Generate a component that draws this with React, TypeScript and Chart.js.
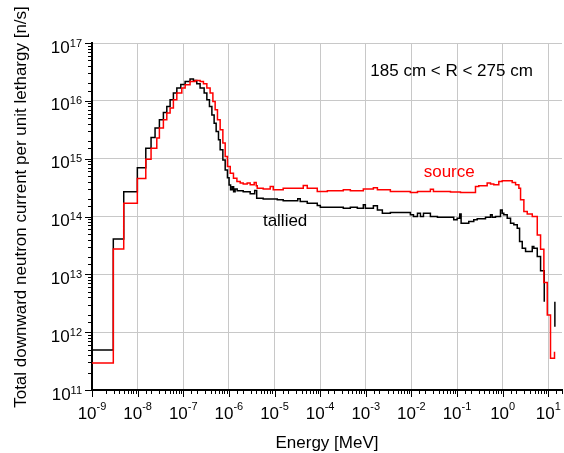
import React, { useEffect, useRef } from "react";
import { Chart, registerables } from "chart.js";

Chart.register(...registerables);

// ---------- data (energy in MeV = lower bin edge, flux per unit lethargy in n/s) ----------
const talliedEnergy = [
  1e-9, 2.93e-9, 4.96e-9, 9.86e-9, 1.51e-8, 1.97e-8, 2.41e-8, 3.0e-8, 3.67e-8, 4.36e-8,
  5.15e-8, 6.08e-8, 7.23e-8, 8.83e-8, 1.1e-7, 1.41e-7, 1.67e-7, 1.98e-7, 2.34e-7, 2.87e-7,
  3.29e-7, 3.75e-7, 4.24e-7, 4.75e-7, 5.26e-7, 5.92e-7, 6.44e-7, 7.38e-7, 8.3e-7, 9.3e-7,
  1.01e-6, 1.09e-6, 1.18e-6, 1.27e-6, 1.37e-6, 1.52e-6, 2.06e-6, 2.93e-6, 3.68e-6, 4.07e-6,
  5.65e-6, 1.15e-5, 1.55e-5, 3.23e-5, 3.66e-5, 5.22e-5, 8.65e-5, 1.01e-4, 3.22e-4, 4.59e-4,
  6.53e-4, 8.85e-4, 9.8e-4, 1.47e-3, 1.8e-3, 2.31e-3, 3.46e-3, 9.5e-3, 1.11e-2, 1.36e-2,
  1.58e-2, 1.84e-2, 2.61e-2, 3.72e-2, 8.47e-2, 0.1007, 0.115, 0.123, 0.181, 0.233,
  0.277, 0.421, 0.542, 0.59, 0.698, 0.897, 0.98, 1.06, 1.26, 1.49,
  1.76, 2.09, 2.35, 2.69, 3.18, 4.46, 4.83, 5.74, 6.78, 8.17,
];
const talliedFlux = [
  4.9e11, 4.1e13, 2.67e14, 7.0e14, 1.52e15, 2.32e15, 3.38e15, 4.7e15, 6.3e15, 8.0e15,
  1.04e16, 1.36e16, 1.66e16, 1.92e16, 2.16e16, 2.38e16, 2.25e16, 1.98e16, 1.66e16, 1.36e16,
  1.04e16, 8.0e15, 5.7e15, 4.1e15, 2.95e15, 2.12e15, 1.42e15, 9.5e14, 6.4e14, 4.7e14,
  3.5e14, 2.9e14, 3.26e14, 2.67e14, 3.0e14, 2.78e14, 2.67e14, 2.47e14, 2.81e14, 2.07e14,
  2.0e14, 1.94e14, 1.87e14, 2.02e14, 1.82e14, 1.7e14, 1.55e14, 1.45e14, 1.39e14, 1.45e14,
  1.39e14, 1.59e14, 1.39e14, 1.53e14, 1.3e14, 1.14e14, 1.17e14, 1.07e14, 1.0e14, 1.14e14,
  1.0e14, 1.14e14, 1.0e14, 9.75e13, 8.75e13, 9.35e13, 1.11e14, 7.67e13, 8.17e13, 8.75e13,
  9.1e13, 9.75e13, 1.07e14, 9.75e13, 1.0e14, 1.3e14, 1.14e14, 1.07e14, 9.35e13, 7.67e13,
  7.17e13, 6.28e13, 3.68e13, 2.83e13, 2.47e13, 3.02e13, 2.83e13, 2.03e13, 1.15e13, 3.37e12,
];
const talliedTailEnergy = [13.96, 13.96];
const talliedTailFlux = [3.37e12, 1.24e12];

const sourceEnergy = [
  1e-9, 2.93e-9, 4.96e-9, 9.86e-9, 1.51e-8, 1.97e-8, 2.63e-8, 3.0e-8, 3.67e-8, 4.36e-8,
  5.15e-8, 6.08e-8, 7.23e-8, 9.29e-8, 1.1e-7, 1.41e-7, 1.82e-7, 2.34e-7, 2.77e-7, 3.29e-7,
  3.88e-7, 4.46e-7, 5.0e-7, 5.62e-7, 6.44e-7, 7.38e-7, 8.3e-7, 9.3e-7, 1.07e-6, 1.26e-6,
  1.5e-6, 1.77e-6, 2.06e-6, 2.52e-6, 2.93e-6, 3.59e-6, 3.97e-6, 4.18e-6, 5.65e-6, 8.05e-6,
  9.38e-6, 1.55e-5, 4.27e-5, 5.22e-5, 8.65e-5, 1.44e-4, 3.22e-4, 4.59e-4, 8.85e-4, 1.47e-3,
  1.8e-3, 3.46e-3, 9.5e-3, 1.36e-2, 2.61e-2, 3.04e-2, 7.18e-2, 0.119, 0.254, 0.3,
  0.458, 0.542, 0.64, 0.824, 0.98, 1.62, 1.92, 2.27, 2.47, 2.92,
  3.46, 4.46, 5.74, 6.78, 8.01, 9.51, 11.2, 13.7,
];
const sourceFlux = [
  2.93e11, 2.75e13, 1.7e14, 4.54e14, 9.8e14, 1.52e15, 2.27e15, 3.38e15, 4.7e15, 6.15e15,
  7.5e15, 1.04e16, 1.36e16, 1.66e16, 1.9e16, 2.16e16, 2.25e16, 2.16e16, 1.98e16, 1.66e16,
  1.36e16, 9.75e15, 7.0e15, 4.7e15, 3.16e15, 1.86e15, 1.09e15, 7.3e14, 5.6e14, 4.6e14,
  4.03e14, 3.78e14, 3.63e14, 3.78e14, 3.53e14, 3.87e14, 3.39e14, 3.09e14, 3.0e14, 3.3e14,
  2.89e14, 3.09e14, 3.43e14, 3.09e14, 2.7e14, 2.78e14, 2.89e14, 2.78e14, 3.0e14, 3.13e14,
  2.89e14, 2.7e14, 2.6e14, 2.7e14, 2.97e14, 2.7e14, 2.64e14, 2.6e14, 3.3e14, 3.39e14,
  3.78e14, 3.63e14, 3.53e14, 4.03e14, 4.14e14, 3.87e14, 3.53e14, 3.09e14, 1.94e14, 1.22e14,
  1.11e14, 1.0e14, 4.81e13, 2.72e13, 7.2e12, 1.99e12, 3.53e11, 4.6e11,
];

const xTickExponents = [-9, -8, -7, -6, -5, -4, -3, -2, -1, 0, 1];
const yTickExponents = [11, 12, 13, 14, 15, 16, 17];
const xTitle = "Energy [MeV]";
const yTitle = "Total downward neutron current per unit lethargy [n/s]";
// annotation texts anchored at data coordinates (energy, flux) = left/baseline
const noteTexts = ["185 cm < R < 275 cm", "source", "tallied"];
const noteEnergy = [1.26e-3, 1.86e-2, 5.57e-6];
const noteFlux = [2.64e16, 4.8e14, 6.9e13];
const noteColors = ["#000000", "#ff0000", "#000000"];

const FONT = 'Arial, "Liberation Sans", Helvetica, sans-serif';
const isDecade = (v: number) => Math.abs(Math.log10(v) - Math.round(Math.log10(v))) < 1e-6;

const decorPlugin = {
  id: "decor",
  afterDraw(chart: any) {
    const ctx: CanvasRenderingContext2D = chart.ctx;
    const xs = chart.scales.x;
    const ys = chart.scales.y;
    const area = chart.chartArea;
    ctx.save();
    ctx.strokeStyle = "#000";
    ctx.lineWidth = 1;
    // tick marks
    xs.ticks.forEach((t: any) => {
      const p = Math.round(xs.getPixelForValue(t.value)) + 0.5;
      const len = isDecade(t.value) ? 7 : 4;
      ctx.beginPath();
      ctx.moveTo(p, area.bottom);
      ctx.lineTo(p, area.bottom + len);
      ctx.stroke();
    });
    ys.ticks.forEach((t: any) => {
      const p = Math.round(ys.getPixelForValue(t.value)) + 0.5;
      const len = isDecade(t.value) ? 7 : 4;
      ctx.beginPath();
      ctx.moveTo(area.left, p);
      ctx.lineTo(area.left - len, p);
      ctx.stroke();
    });
    // tick labels
    ctx.fillStyle = "#000";
    ctx.textBaseline = "alphabetic";
    ctx.textAlign = "left";
    const baseFont = `17px ${FONT}`;
    const expFont = `11px ${FONT}`;
    xTickExponents.forEach((e) => {
      const p = xs.getPixelForValue(Math.pow(10, e));
      ctx.font = baseFont;
      const wb = ctx.measureText("10").width;
      ctx.font = expFont;
      const we = ctx.measureText(String(e)).width;
      const x0 = p - (wb + we) / 2;
      ctx.font = baseFont;
      ctx.fillText("10", x0, area.bottom + 29);
      ctx.font = expFont;
      ctx.fillText(String(e), x0 + wb, area.bottom + 20);
    });
    yTickExponents.forEach((e) => {
      const p = ys.getPixelForValue(Math.pow(10, e));
      ctx.font = baseFont;
      const wb = ctx.measureText("10").width;
      ctx.font = expFont;
      const we = ctx.measureText(String(e)).width;
      const right = area.left - 10;
      const x0 = right - we - wb;
      ctx.font = baseFont;
      ctx.fillText("10", x0, p + 9.5);
      ctx.font = expFont;
      ctx.fillText(String(e), x0 + wb, p + 3.5);
    });
    // axis titles
    ctx.font = `17px ${FONT}`;
    ctx.textAlign = "center";
    ctx.fillText(xTitle, (area.left + area.right) / 2, 447.5);
    ctx.save();
    ctx.translate(26, 207);
    ctx.rotate(-Math.PI / 2);
    ctx.fillText(yTitle, 0, 0);
    ctx.restore();
    // annotations
    ctx.textAlign = "left";
    noteTexts.forEach((txt, i) => {
      ctx.fillStyle = noteColors[i];
      ctx.fillText(txt, xs.getPixelForValue(noteEnergy[i]), ys.getPixelForValue(noteFlux[i]));
    });
    ctx.restore();
  },
};

const toPoints = (xs: number[], ys: number[]) => xs.map((x, i) => ({ x, y: ys[i] }));

export default function App() {
  const canvasRef = useRef<HTMLCanvasElement | null>(null);

  useEffect(() => {
    const canvas = canvasRef.current;
    if (!canvas) return;
    const gridColor = (c: any) => (c.tick && isDecade(c.tick.value) ? "#c8c8c8" : "rgba(0,0,0,0)");
    const chart = new Chart(canvas, {
      type: "line",
      data: {
        datasets: [
          {
            label: "source",
            data: toPoints(sourceEnergy, sourceFlux),
            borderColor: "#ff0000",
            borderWidth: 1.5,
            pointRadius: 0,
            stepped: "before",
            fill: false,
          },
          {
            label: "tallied",
            data: toPoints(talliedEnergy, talliedFlux),
            borderColor: "#000000",
            borderWidth: 1.5,
            pointRadius: 0,
            stepped: "before",
            fill: false,
          },
          {
            label: "tallied (tail)",
            data: toPoints(talliedTailEnergy, talliedTailFlux),
            borderColor: "#000000",
            borderWidth: 1.5,
            pointRadius: 0,
            stepped: "before",
            fill: false,
          },
        ],
      },
      options: {
        animation: false,
        responsive: false,
        devicePixelRatio: 1,
        layout: { padding: { top: 43, right: 2, left: 0, bottom: 0 } },
        plugins: { legend: { display: false }, tooltip: { enabled: false } },
        scales: {
          x: {
            type: "logarithmic",
            min: 1e-9,
            max: 20,
            ticks: { display: false },
            grid: { color: gridColor, lineWidth: 1, drawTicks: false },
            border: { display: true, color: "#000", width: 2 },
            afterFit: (s: any) => {
              s.height = 63;
            },
          },
          y: {
            type: "logarithmic",
            min: 1e11,
            max: 1e17,
            ticks: { display: false },
            grid: { color: gridColor, lineWidth: 1, drawTicks: false },
            border: { display: true, color: "#000", width: 2 },
            afterFit: (s: any) => {
              s.width = 92;
            },
          },
        },
      },
      plugins: [decorPlugin],
    } as any);
    return () => chart.destroy();
  }, []);

  return (
    <div style={{ position: "absolute", left: 0, top: 0, width: 564, height: 453, background: "#fff" }}>
      <canvas ref={canvasRef} width={564} height={453} />
    </div>
  );
}
